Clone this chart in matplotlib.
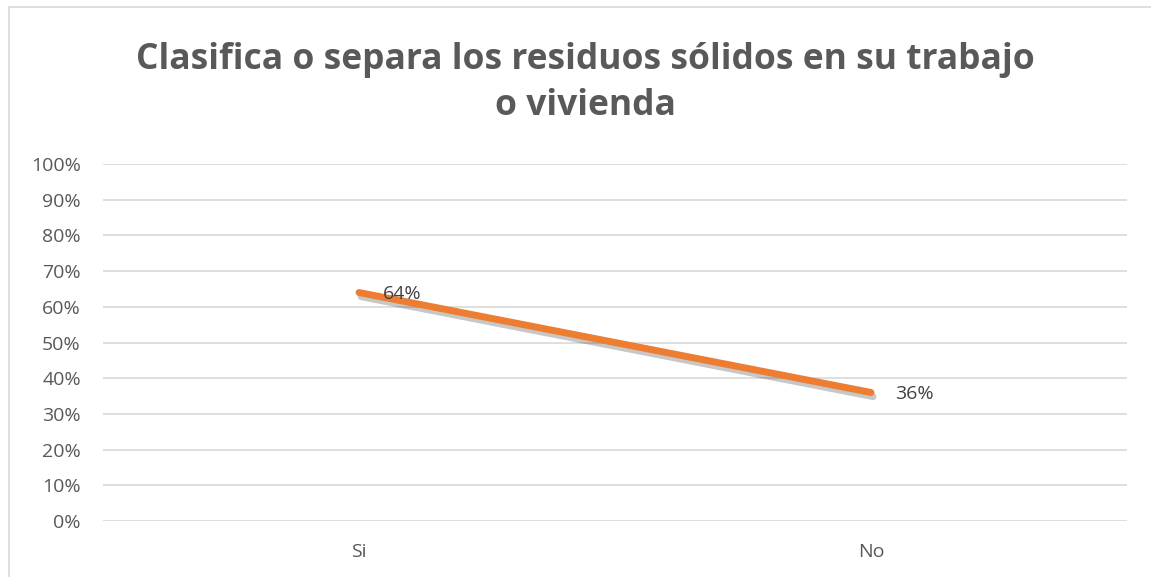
import matplotlib
matplotlib.use('Agg')
from matplotlib import pyplot as plt
from matplotlib.patches import Rectangle
import matplotlib.patheffects as pe

# data
categories = ['Si', 'No']
values = [0.64, 0.36]
labels = ['64%', '36%']
y_ticks = [0, 0.1, 0.2, 0.3, 0.4, 0.5, 0.6, 0.7, 0.8, 0.9, 1.0]
y_tick_labels = ['0%', '10%', '20%', '30%', '40%', '50%', '60%', '70%', '80%', '90%', '100%']

plt.rcParams['font.family'] = ['Open Sans', 'DejaVu Sans']

fig = plt.figure(figsize=(11.51, 5.77), dpi=100)
W, H = 1151, 577
# plot area in pixels
left, right, top, bottom = 103, 1127, 164, 521
ax = fig.add_axes([left / W, 1 - bottom / H, (right - left) / W, (bottom - top) / H])

# outer chart border
fig.patches.append(Rectangle((9 / W, -0.1), 1.2, 1 - 7 / H + 0.1,
                             transform=fig.transFigure, fill=False,
                             edgecolor='#d9d9d9', linewidth=1.2))

x = list(range(len(categories)))
ax.plot(x, values, color='#ED7D31', linewidth=5, solid_capstyle='round',
        path_effects=[pe.SimpleLineShadow(offset=(1.5, -3), shadow_color='#000000', alpha=0.22),
                      pe.Normal()], zorder=3)

for xi, v, lab in zip(x, values, labels):
    ax.annotate(lab, (xi, v), xytext=(17, -1), textcoords='offset points',
                ha='left', va='center', fontsize=14, color='#404040', zorder=4)

ax.set_xlim(-0.5, len(categories) - 0.5)
ax.set_ylim(0, 1)
ax.set_yticks(y_ticks)
ax.set_yticklabels(y_tick_labels)
ax.set_xticks(x)
ax.set_xticklabels(categories)
ax.tick_params(axis='both', length=0, labelsize=14, labelcolor='#595959')
ax.tick_params(axis='y', pad=16)
ax.tick_params(axis='x', pad=16)
ax.grid(axis='y', color='#d9d9d9', linewidth=1.2)
ax.set_axisbelow(True)
for s in ax.spines.values():
    s.set_visible(False)

fig.text(585 / W, 1 - 83 / H,
         'Clasifica o separa los residuos sólidos en su trabajo\no vivienda',
         ha='center', va='center', fontsize=25.5, fontweight='bold', color='#595959',
         linespacing=1.35)

plt.savefig('out.png', dpi=100)
